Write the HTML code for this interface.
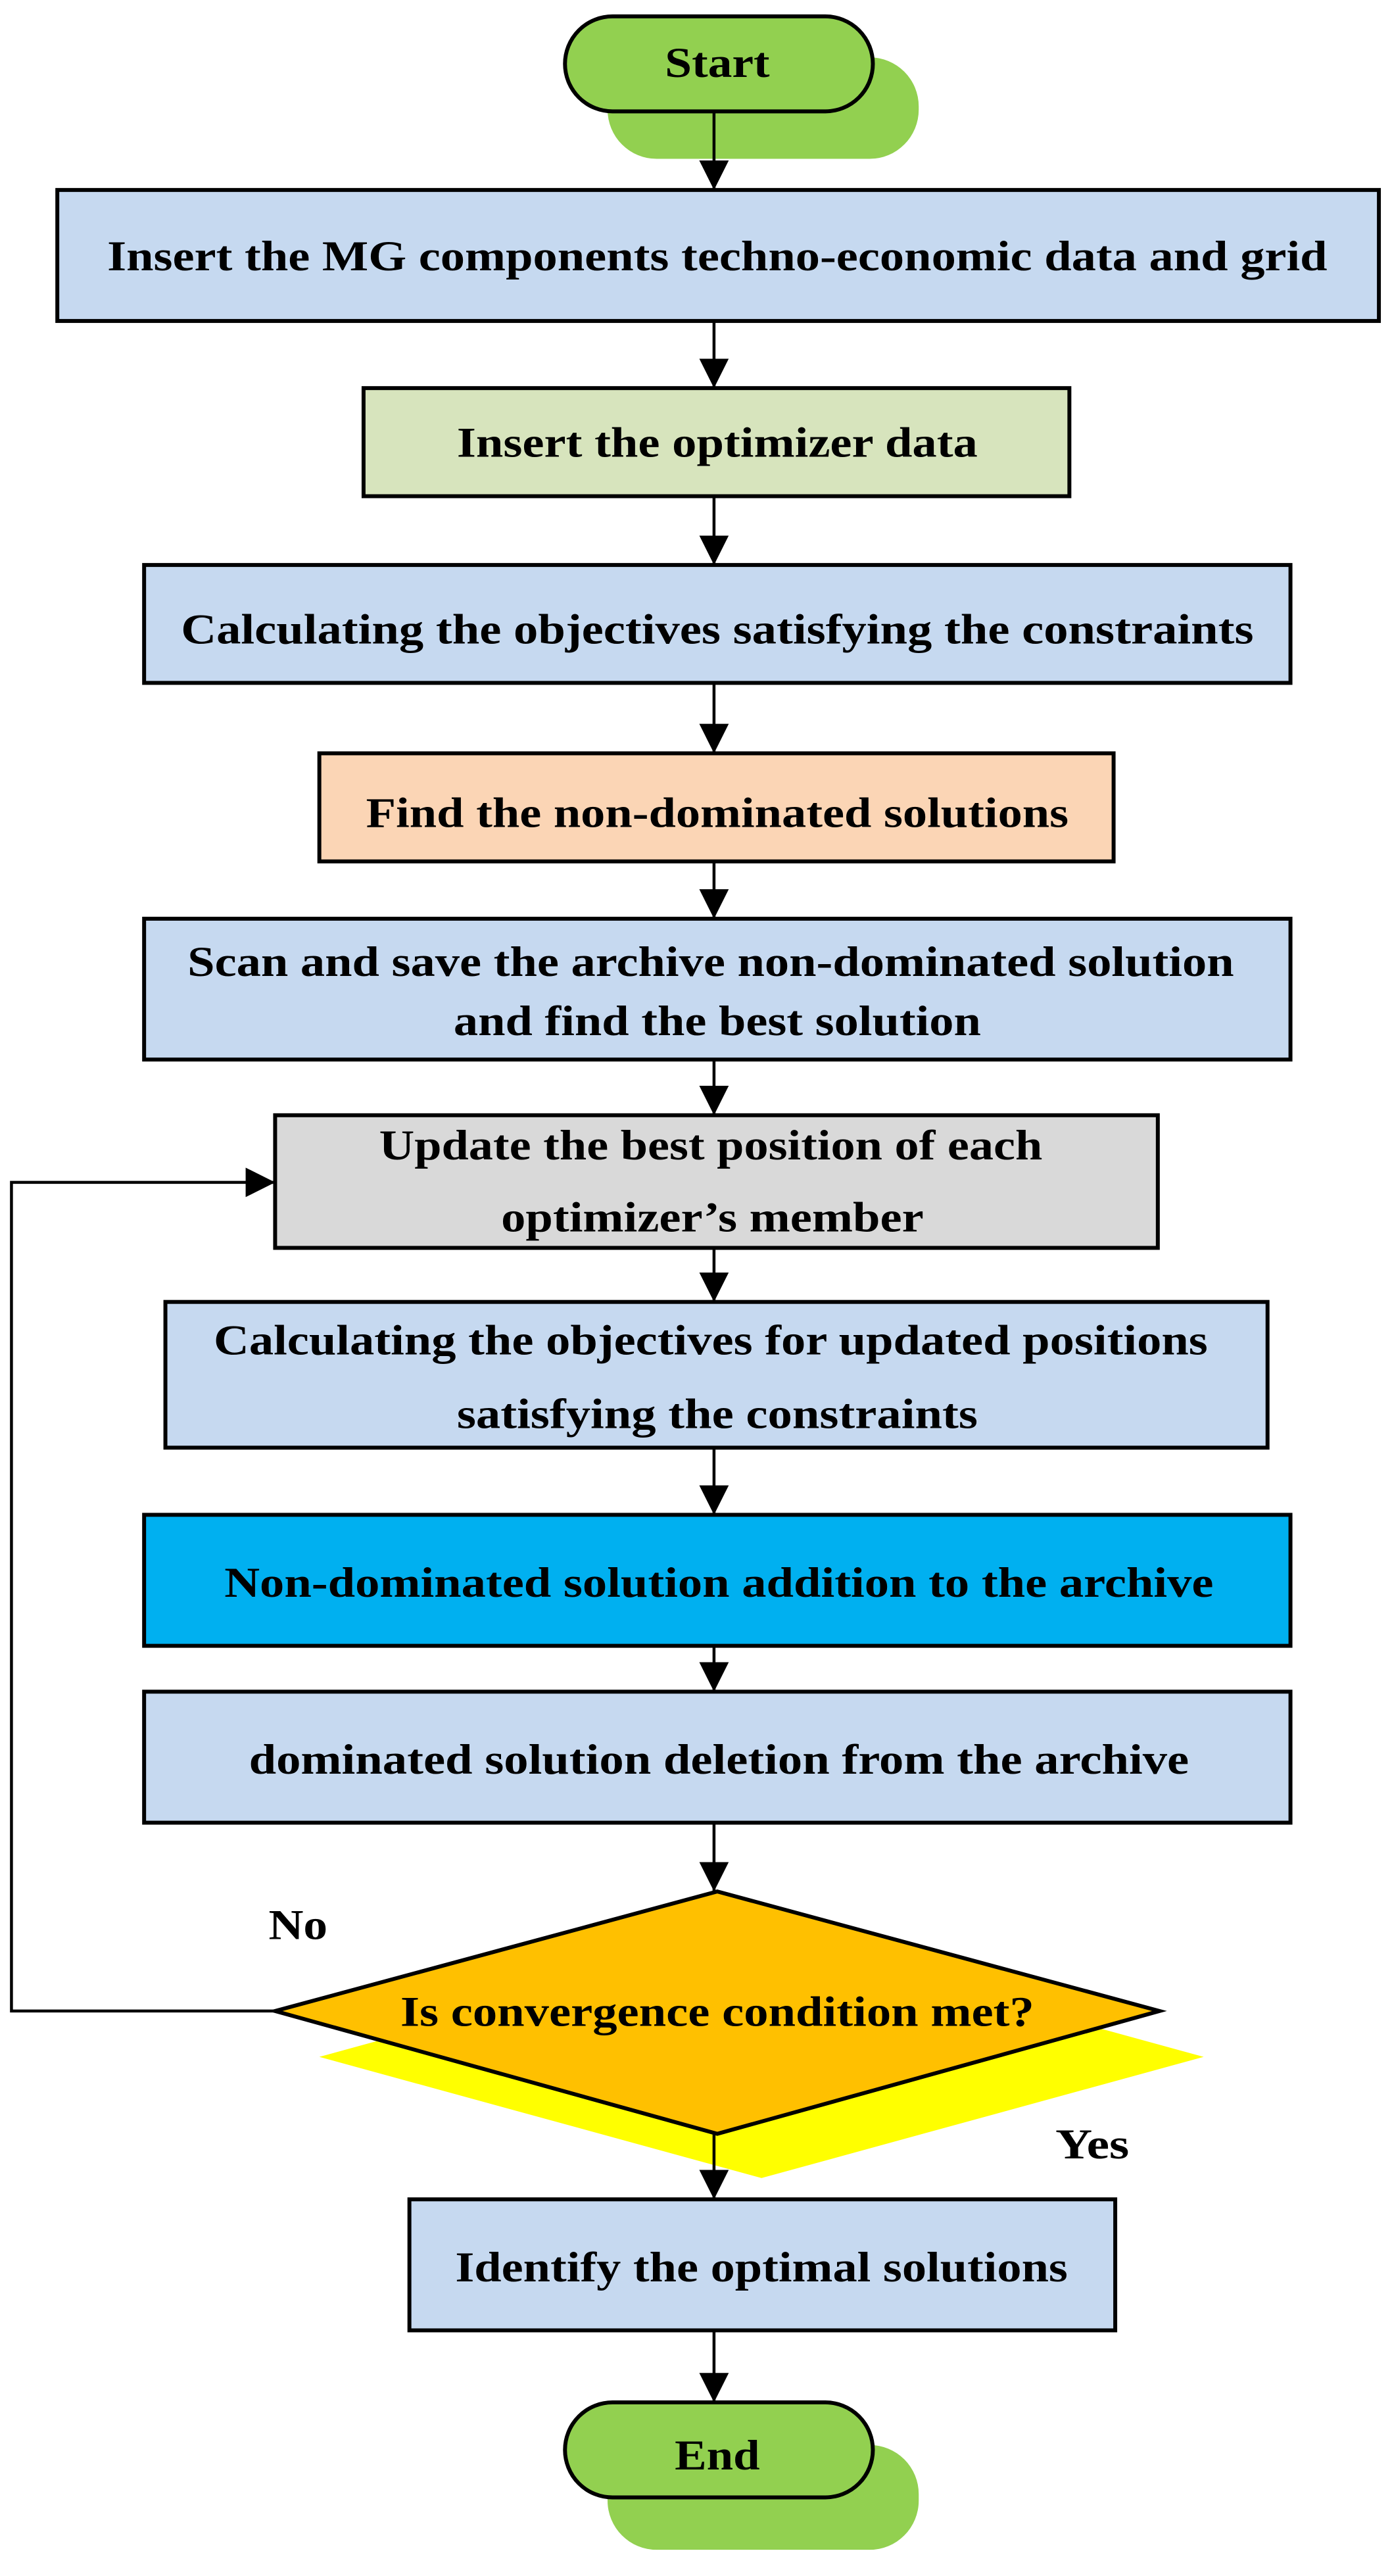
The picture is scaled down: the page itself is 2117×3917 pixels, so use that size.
<!DOCTYPE html>
<html><head><meta charset="utf-8"><style>html,body{margin:0;padding:0;background:#fff}svg{display:block}</style></head>
<body>
<svg width="2117" height="3917" viewBox="0 0 850 1573" preserveAspectRatio="none" xmlns="http://www.w3.org/2000/svg" font-family="'Liberation Serif', serif" font-weight="bold" font-size="26" text-anchor="middle">
<defs><marker id="a" markerWidth="18" markerHeight="18" refX="18" refY="9" orient="auto" markerUnits="userSpaceOnUse"><path d="M0,0 L18,9 L0,18 Z" fill="#000"/></marker></defs>
<g stroke="#000" stroke-width="2.4">
<!-- Start -->
<rect x="371" y="35" width="190" height="62" rx="30" ry="30" fill="#92d050" stroke="none"/>
<rect x="345" y="10" width="188" height="58" rx="29" ry="29" fill="#92d050"/>
<rect x="35" y="116" width="807" height="80" fill="#c6d9f0"/>
<rect x="222" y="237" width="431" height="66" fill="#d7e4bd"/>
<rect x="88" y="345" width="700" height="72" fill="#c6d9f0"/>
<rect x="195" y="460" width="485" height="66" fill="#fbd5b5"/>
<rect x="88" y="561" width="700" height="86" fill="#c6d9f0"/>
<rect x="168" y="681" width="539" height="81" fill="#d9d9d9"/>
<rect x="101" y="795" width="673" height="89" fill="#c6d9f0"/>
<rect x="88" y="925" width="700" height="80" fill="#00b0f0"/>
<rect x="88" y="1033" width="700" height="80" fill="#c6d9f0"/>
<polygon points="465,1182 735,1256 465,1330 195,1256" fill="#ffff00" stroke="none"/>
<polygon points="438,1155 708,1228 438,1303 168,1228" fill="#ffc000"/>
<rect x="250" y="1343" width="431" height="80" fill="#c6d9f0"/>
<rect x="371" y="1493" width="190" height="64" rx="30" ry="30" fill="#92d050" stroke="none"/>
<rect x="345" y="1467" width="188" height="58" rx="29" ry="29" fill="#92d050"/>
</g>
<g stroke="#000" stroke-width="1.8" fill="none" marker-end="url(#a)">
<line x1="436" y1="68" x2="436" y2="116"/>
<line x1="436" y1="196" x2="436" y2="237"/>
<line x1="436" y1="303" x2="436" y2="345"/>
<line x1="436" y1="417" x2="436" y2="460"/>
<line x1="436" y1="526" x2="436" y2="561"/>
<line x1="436" y1="647" x2="436" y2="681"/>
<line x1="436" y1="762" x2="436" y2="795"/>
<line x1="436" y1="884" x2="436" y2="925"/>
<line x1="436" y1="1005" x2="436" y2="1033"/>
<line x1="436" y1="1113" x2="436" y2="1155"/>
<line x1="436" y1="1303" x2="436" y2="1343"/>
<line x1="436" y1="1423" x2="436" y2="1467"/>
<polyline points="168,1228 7,1228 7,722 168,722"/>
</g>
<g fill="#000">
<text x="438" y="47" textLength="64" lengthAdjust="spacingAndGlyphs">Start</text>
<text x="438" y="165" textLength="745" lengthAdjust="spacingAndGlyphs">Insert the MG components techno-economic data and grid</text>
<text x="438" y="279" textLength="318" lengthAdjust="spacingAndGlyphs">Insert the optimizer data</text>
<text x="438" y="393" textLength="655" lengthAdjust="spacingAndGlyphs">Calculating the objectives satisfying the constraints</text>
<text x="438" y="505" textLength="429" lengthAdjust="spacingAndGlyphs">Find the non-dominated solutions</text>
<text x="434" y="596" textLength="639" lengthAdjust="spacingAndGlyphs">Scan and save the archive non-dominated solution</text>
<text x="438" y="632" textLength="322" lengthAdjust="spacingAndGlyphs">and find the best solution</text>
<text x="434" y="708" textLength="405" lengthAdjust="spacingAndGlyphs">Update the best position of each</text>
<text x="435" y="752" textLength="258" lengthAdjust="spacingAndGlyphs">optimizer’s member</text>
<text x="434" y="827" textLength="607" lengthAdjust="spacingAndGlyphs">Calculating the objectives for updated positions</text>
<text x="438" y="872" textLength="318" lengthAdjust="spacingAndGlyphs">satisfying the constraints</text>
<text x="439" y="975" textLength="604" lengthAdjust="spacingAndGlyphs">Non-dominated solution addition to the archive</text>
<text x="439" y="1083" textLength="574" lengthAdjust="spacingAndGlyphs">dominated solution deletion from the archive</text>
<text x="438" y="1237" textLength="387" lengthAdjust="spacingAndGlyphs">Is convergence condition met?</text>
<text x="465" y="1393" textLength="374" lengthAdjust="spacingAndGlyphs">Identify the optimal solutions</text>
<text x="438" y="1508" textLength="52" lengthAdjust="spacingAndGlyphs">End</text>
<text x="182" y="1184" textLength="36" lengthAdjust="spacingAndGlyphs">No</text>
<text x="667" y="1318" textLength="45" lengthAdjust="spacingAndGlyphs">Yes</text>
</g>
</svg>
</body></html>
